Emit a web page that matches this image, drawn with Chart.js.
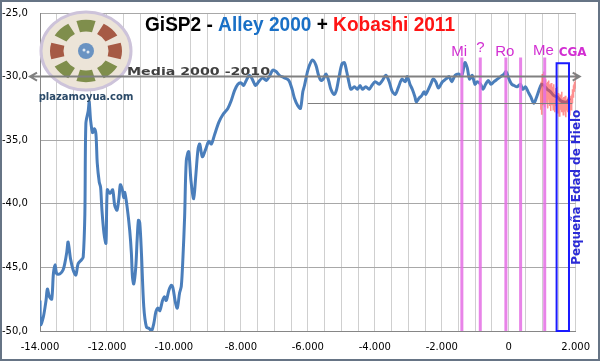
<!DOCTYPE html>
<html>
<head>
<meta charset="utf-8">
<title>GiSP2</title>
<script src="https://cdn.jsdelivr.net/npm/chart.js@4.4.1/dist/chart.umd.min.js"></script>
<style>
  html, body { margin: 0; padding: 0; background: #fff; }
  #wrap { width: 600px; height: 361px; position: relative; }
</style>
</head>
<body>
<div id="wrap"><canvas id="chart" width="600" height="361"></canvas></div>
<script>
// GISP2 temperature (Alley 2000), year AD (negative = BC)
var alleyYears = [-14000,-13980,-13900,-13820,-13780,-13720,-13650,-13600,-13550,-13500,-13400,-13310,-13260,-13200,-13160,-13090,-13010,-12930,-12860,-12760,-12710,-12660,-12630,-12560,-12530,-12490,-12430,-12380,-12330,-12290,-12230,-12190,-12150,-12090,-12030,-11990,-11910,-11830,-11770,-11700,-11640,-11600,-11540,-11500,-11470,-11400,-11320,-11270,-11240,-11200,-11140,-11100,-11060,-11020,-10970,-10900,-10820,-10740,-10670,-10600,-10540,-10480,-10420,-10340,-10280,-10230,-10150,-10080,-10030,-9960,-9900,-9830,-9780,-9730,-9680,-9630,-9560,-9490,-9410,-9350,-9280,-9230,-9150,-9050,-8960,-8880,-8790,-8660,-8540,-8390,-8290,-8190,-8090,-7990,-7920,-7840,-7740,-7660,-7560,-7470,-7350,-7240,-7150,-7050,-6950,-6850,-6700,-6570,-6470,-6400,-6300,-6220,-6150,-6100,-6010,-5950,-5860,-5760,-5680,-5610,-5540,-5460,-5380,-5310,-5210,-5140,-5060,-4980,-4910,-4840,-4760,-4710,-4610,-4520,-4440,-4370,-4270,-4170,-4090,-3990,-3870,-3770,-3670,-3570,-3490,-3390,-3290,-3190,-3090,-3030,-2950,-2880,-2800,-2760,-2680,-2600,-2530,-2480,-2400,-2330,-2260,-2180,-2100,-1980,-1880,-1780,-1700,-1600,-1500,-1400,-1310,-1240,-1170,-1090,-1010,-940,-840,-770,-690,-610,-530,-440,-340,-240,-140,-80,10,90,160,250,350,420,500,580,660,750,820,900,980,1050,1150,1250,1350,1450,1550,1650,1740,1820];
var alleyTemp = [-47.6,-49.5,-48.9,-47.6,-46.7,-47.3,-47.5,-45.5,-44.8,-45.5,-45.5,-45.2,-44.7,-43.8,-43.0,-44.3,-45.2,-45.6,-44.7,-44.4,-44.2,-40.8,-33.7,-32.7,-32.0,-33.4,-34.4,-34.1,-34.5,-36.8,-38.3,-38.7,-40.5,-42.3,-43.1,-38.9,-39.2,-38.9,-40.1,-40.5,-39.5,-38.5,-38.9,-39.5,-39.1,-40.2,-42.1,-43.9,-45.7,-46.3,-45.0,-42.9,-41.3,-41.5,-43.9,-48.1,-49.7,-49.8,-50.0,-49.4,-48.5,-48.2,-48.4,-47.6,-47.3,-47.6,-46.8,-46.4,-46.6,-47.7,-48.2,-47.0,-46.5,-44.2,-41.0,-36.6,-35.9,-38.2,-39.6,-37.9,-35.7,-35.3,-36.3,-35.7,-35.1,-35.3,-34.6,-33.6,-33.0,-32.5,-31.9,-31.1,-30.6,-30.5,-30.7,-30.3,-29.9,-30.2,-30.7,-30.4,-30.1,-30.3,-30.0,-29.5,-29.6,-29.9,-30.1,-30.3,-31.0,-31.7,-32.3,-32.5,-31.2,-30.7,-29.6,-29.1,-28.7,-29.1,-29.9,-30.3,-30.2,-29.8,-30.3,-31.0,-31.4,-31.0,-29.9,-29.0,-28.9,-29.6,-30.6,-31.0,-30.8,-31.0,-30.7,-31.0,-30.8,-31.0,-30.7,-30.4,-30.6,-30.3,-29.9,-30.4,-31.1,-31.4,-30.8,-30.2,-30.4,-30.0,-30.6,-31.0,-31.6,-32.0,-31.7,-31.5,-31.2,-31.4,-31.0,-30.6,-30.2,-30.4,-30.9,-30.4,-30.2,-30.0,-30.4,-29.9,-29.8,-29.9,-28.9,-29.3,-30.2,-29.9,-30.6,-30.4,-30.6,-31.0,-30.6,-30.3,-30.6,-30.4,-30.2,-30.0,-29.8,-29.6,-30.2,-30.6,-30.7,-30.8,-30.6,-31.0,-30.8,-31.2,-31.6,-32.1,-31.7,-31.1,-30.6,-30.7,-31.0,-31.2,-31.5,-31.6,-31.9,-32.0,-32.0,-31.7];

// Kobashi 2011
var kobashiYears = [950,960,970,980,990,1000,1010,1020,1030,1040,1050,1060,1070,1080,1090,1100,1110,1120,1130,1140,1150,1160,1170,1180,1190,1200,1210,1220,1230,1240,1250,1260,1270,1280,1290,1300,1310,1320,1330,1340,1350,1360,1370,1380,1390,1400,1410,1420,1430,1440,1450,1460,1470,1480,1490,1500,1510,1520,1530,1540,1550,1560,1570,1580,1590,1600,1610,1620,1630,1640,1650,1660,1670,1680,1690,1700,1710,1720,1730,1740,1750,1760,1770,1780,1790,1800,1810,1820,1830,1840,1850,1860,1870,1880,1890,1900,1910,1920,1930,1940,1950,1960,1970,1980,1990,2000];
var kobashiTemp = [-31.0,-32.6,-30.4,-33.0,-31.2,-29.8,-31.6,-30.3,-32.2,-30.9,
  -29.6,-31.5,-30.6,-32.4,-30.8,-31.7,-30.2,-32.0,-31.1,-30.5,
  -31.9,-30.4,-32.5,-31.0,-30.3,-31.8,-30.9,-32.3,-31.2,-30.6,
  -32.7,-31.1,-30.5,-31.9,-31.3,-32.2,-30.8,-31.6,-32.6,-31.0,
  -30.6,-32.1,-31.4,-32.8,-31.2,-30.9,-32.3,-31.5,-32.0,-30.8,
  -32.4,-31.6,-32.9,-31.3,-32.2,-31.7,-33.1,-31.8,-32.4,-31.4,
  -32.6,-31.9,-32.3,-31.2,-32.8,-31.7,-32.5,-31.9,-33.0,-32.1,
  -31.6,-32.7,-31.9,-32.4,-31.5,-33.2,-32.0,-32.6,-31.8,-32.3,
  -31.9,-32.8,-32.1,-31.6,-32.5,-31.8,-33.0,-32.2,-31.7,-32.4,
  -32.0,-31.5,-32.6,-31.9,-31.4,-32.1,-31.0,-31.6,-30.7,-31.3,
  -30.6,-31.2,-30.4,-30.9,-30.2,-29.7];

var xTicks = [-14000,-12000,-10000,-8000,-6000,-4000,-2000,0,2000];
var xTickLabels = ['-14.000','-12.000','-10.000','-8.000','-6.000','-4.000','-2.000','0','2.000'];
var yTicks = [-50,-45,-40,-35,-30,-25];
var yTickLabels = ['-50,0','-45,0','-40,0','-35,0','-30,0','-25,0'];

var mediaValue = -30;       // Media 2000-2010
var lowLine = { from: -6000, to: 1900, value: -32.1 };
var periodLines = [-1400, -850, -85, 355, 1075];
var periodNames = ['Mi', '?', 'Ro', 'Me', 'CGA'];
var periodNameX = [-1480, -845, -115, 1035, 1910];
var periodNameY = [-28.4, -28.1, -28.4, -28.3, -28.4];
var liaBox = { from: 1430, to: 1800, top: -28.95 };

function pts(xs, ys) {
  var out = [];
  for (var i = 0; i < xs.length; i++) out.push({ x: xs[i], y: ys[i] });
  return out;
}

function fitText(ctx, parts, font, x, y, width) {
  ctx.font = font;
  var w = 0;
  parts.forEach(function (p) { w += ctx.measureText(p[0]).width; });
  ctx.save();
  ctx.translate(x, y);
  ctx.scale(width / w, 1);
  var cx = 0;
  ctx.textBaseline = 'alphabetic';
  ctx.textAlign = 'left';
  parts.forEach(function (p) {
    ctx.fillStyle = p[1];
    ctx.fillText(p[0], cx, 0);
    cx += ctx.measureText(p[0]).width;
  });
  ctx.restore();
}

function drawLogo(ctx, cx, cy, rx, ry) {
  ctx.save();
  ctx.beginPath();
  ctx.ellipse(cx, cy, rx, ry, 0, 0, Math.PI * 2);
  ctx.fillStyle = '#ece4d8';
  ctx.fill();
  ctx.lineWidth = 3;
  ctx.strokeStyle = '#cdc3da';
  ctx.stroke();
  var cols = ['#a65a45', '#7f8e4c', '#7f8e4c', '#7f8e4c', '#a65a45', '#7f8e4c', '#7f8e4c', '#a65a45'];
  for (var k = 0; k < 8; k++) {
    var a = k * Math.PI / 4;
    ctx.beginPath();
    ctx.ellipse(cx, cy, rx * 0.8, ry * 0.8, 0, a - 0.27, a + 0.27);
    ctx.ellipse(cx, cy, rx * 0.5, ry * 0.5, 0, a + 0.27, a - 0.27, true);
    ctx.closePath();
    ctx.fillStyle = cols[k];
    ctx.fill();
  }
  ctx.beginPath();
  ctx.arc(cx, cy, 8, 0, Math.PI * 2);
  ctx.fillStyle = '#6a93c2';
  ctx.fill();
  ctx.fillStyle = '#dfe8f2';
  ctx.beginPath(); ctx.arc(cx - 2, cy - 1, 1.5, 0, Math.PI * 2); ctx.fill();
  ctx.beginPath(); ctx.arc(cx + 2, cy + 1, 1.5, 0, Math.PI * 2); ctx.fill();
  ctx.font = 'bold 10px "DejaVu Sans"';
  ctx.fillStyle = '#2b4a68';
  ctx.textAlign = 'center';
  ctx.textBaseline = 'middle';
  ctx.fillText('plazamoyua.com', cx, cy + ry + 7);
  ctx.restore();
}

var decor = {
  id: 'decor',
  afterDatasetsDraw: function (chart) {
    var ctx = chart.ctx, xs = chart.scales.x, ys = chart.scales.y, ca = chart.chartArea;
    // period lines
    ctx.save();
    ctx.strokeStyle = 'rgba(228,110,228,0.85)';
    ctx.lineWidth = 3;
    periodLines.forEach(function (yr) {
      var x = xs.getPixelForValue(yr);
      ctx.beginPath();
      ctx.moveTo(x, ys.getPixelForValue(-28.5));
      ctx.lineTo(x, ca.bottom);
      ctx.stroke();
    });
    ctx.restore();

    drawLogo(ctx, ca.left + 46, ca.top + 38, 45, 39);

    // low reference line
    ctx.save();
    ctx.strokeStyle = '#7f7f7f';
    ctx.lineWidth = 1;
    var yl = Math.round(ys.getPixelForValue(lowLine.value)) + 0.5;
    ctx.beginPath();
    ctx.moveTo(xs.getPixelForValue(lowLine.from), yl);
    ctx.lineTo(xs.getPixelForValue(lowLine.to), yl);
    ctx.stroke();

    // Media line with arrows
    var ym = ys.getPixelForValue(mediaValue);
    var x0 = ca.left - 10, x1 = ca.right + 4;
    ctx.strokeStyle = '#808080';
    ctx.lineWidth = 2;
    ctx.beginPath();
    ctx.moveTo(x0, ym); ctx.lineTo(x1, ym);
    ctx.moveTo(x0 + 7, ym - 4); ctx.lineTo(x0, ym); ctx.lineTo(x0 + 7, ym + 4);
    ctx.moveTo(x1 - 7, ym - 4); ctx.lineTo(x1, ym); ctx.lineTo(x1 - 7, ym + 4);
    ctx.stroke();
    ctx.restore();

    fitText(ctx, [['Media 2000 -2010', '#404040']], 'bold 11px "DejaVu Sans"', 127, ym - 2, 143);

    // Little Ice Age box
    ctx.save();
    ctx.strokeStyle = '#1a1aff';
    ctx.lineWidth = 2;
    var bx0 = xs.getPixelForValue(liaBox.from), bx1 = xs.getPixelForValue(liaBox.to);
    var by0 = ys.getPixelForValue(liaBox.top);
    ctx.strokeRect(bx0, by0, bx1 - bx0, ca.bottom - by0);
    ctx.restore();

    // period names
    ctx.save();
    ctx.fillStyle = '#d22ed2';
    ctx.textAlign = 'center';
    ctx.textBaseline = 'alphabetic';
    periodNames.forEach(function (n, i) {
      ctx.font = n === 'CGA' ? 'bold 12px "DejaVu Sans"' : '15px "Liberation Sans"';
      ctx.fillText(n, xs.getPixelForValue(periodNameX[i]), ys.getPixelForValue(periodNameY[i]));
    });
    ctx.restore();

    // vertical label
    ctx.save();
    ctx.translate(ca.right + 1, ys.getPixelForValue(-38.7));
    ctx.rotate(-Math.PI / 2);
    ctx.font = 'bold 12px "DejaVu Sans"';
    var t = 'Pequeña Edad de Hielo';
    var w = ctx.measureText(t).width;
    ctx.scale(155 / w, 1);
    ctx.fillStyle = '#2b2bd6';
    ctx.textAlign = 'center';
    ctx.textBaseline = 'middle';
    ctx.fillText(t, 0, 0);
    ctx.restore();

    // title
    fitText(ctx, [['GiSP2 - ', '#000000'], ['Alley 2000', '#1a70c6'], [' + ', '#000000'], ['Kobashi 2011', '#ff1414']],
      'bold 21px "Liberation Sans"', 145, 31, 310);
  },
  afterDraw: function (chart) {
    var ctx = chart.ctx;
    ctx.save();
    ctx.strokeStyle = '#667485';
    ctx.lineWidth = 2;
    ctx.strokeRect(1, 1, chart.width - 2, chart.height - 2);
    ctx.restore();
  }
};

var canvas = document.getElementById('chart').getContext('2d');
window.grafico = new Chart(canvas, {
  type: 'line',
  data: {
    datasets: [
      {
        label: 'Kobashi 2011',
        data: pts(kobashiYears, kobashiTemp),
        borderColor: 'rgba(255,70,70,0.6)',
        borderWidth: 1.5,
        pointRadius: 0,
        tension: 0,
        order: 0
      },
      {
        label: 'Alley 2000',
        data: pts(alleyYears, alleyTemp),
        borderColor: '#4a7ebb',
        borderWidth: 3,
        pointRadius: 0,
        tension: 0.3,
        order: 1
      }
    ]
  },
  options: {
    responsive: false,
    animation: false,
    layout: { padding: { left: 2, top: 13, right: 23, bottom: 0 } },
    plugins: { legend: { display: false }, tooltip: { enabled: false }, title: { display: false } },
    scales: {
      x: {
        type: 'linear',
        min: -14000,
        max: 2000,
        grid: { color: '#cfcfcf', drawTicks: false },
        border: { color: '#868686' },
        ticks: {
          stepSize: 500,
          autoSkip: false,
          maxRotation: 0,
          padding: 10,
          color: '#000',
          font: { family: 'DejaVu Sans', size: 10 },
          callback: function (v) {
            var i = xTicks.indexOf(v);
            return i >= 0 ? xTickLabels[i] : '';
          }
        },
        afterFit: function (s) { s.height = 30; }
      },
      y: {
        min: -50,
        max: -25,
        grid: { color: '#a8a8a8', drawTicks: false },
        border: { color: '#868686' },
        ticks: {
          stepSize: 5,
          crossAlign: 'far',
          padding: 4,
          color: '#000',
          font: { family: 'DejaVu Sans', size: 10 },
          callback: function (v) {
            var i = yTicks.indexOf(v);
            return i >= 0 ? yTickLabels[i] : '';
          }
        },
        afterFit: function (s) { s.width = 38; }
      }
    }
  },
  plugins: [decor]
});
</script>
</body>
</html>
